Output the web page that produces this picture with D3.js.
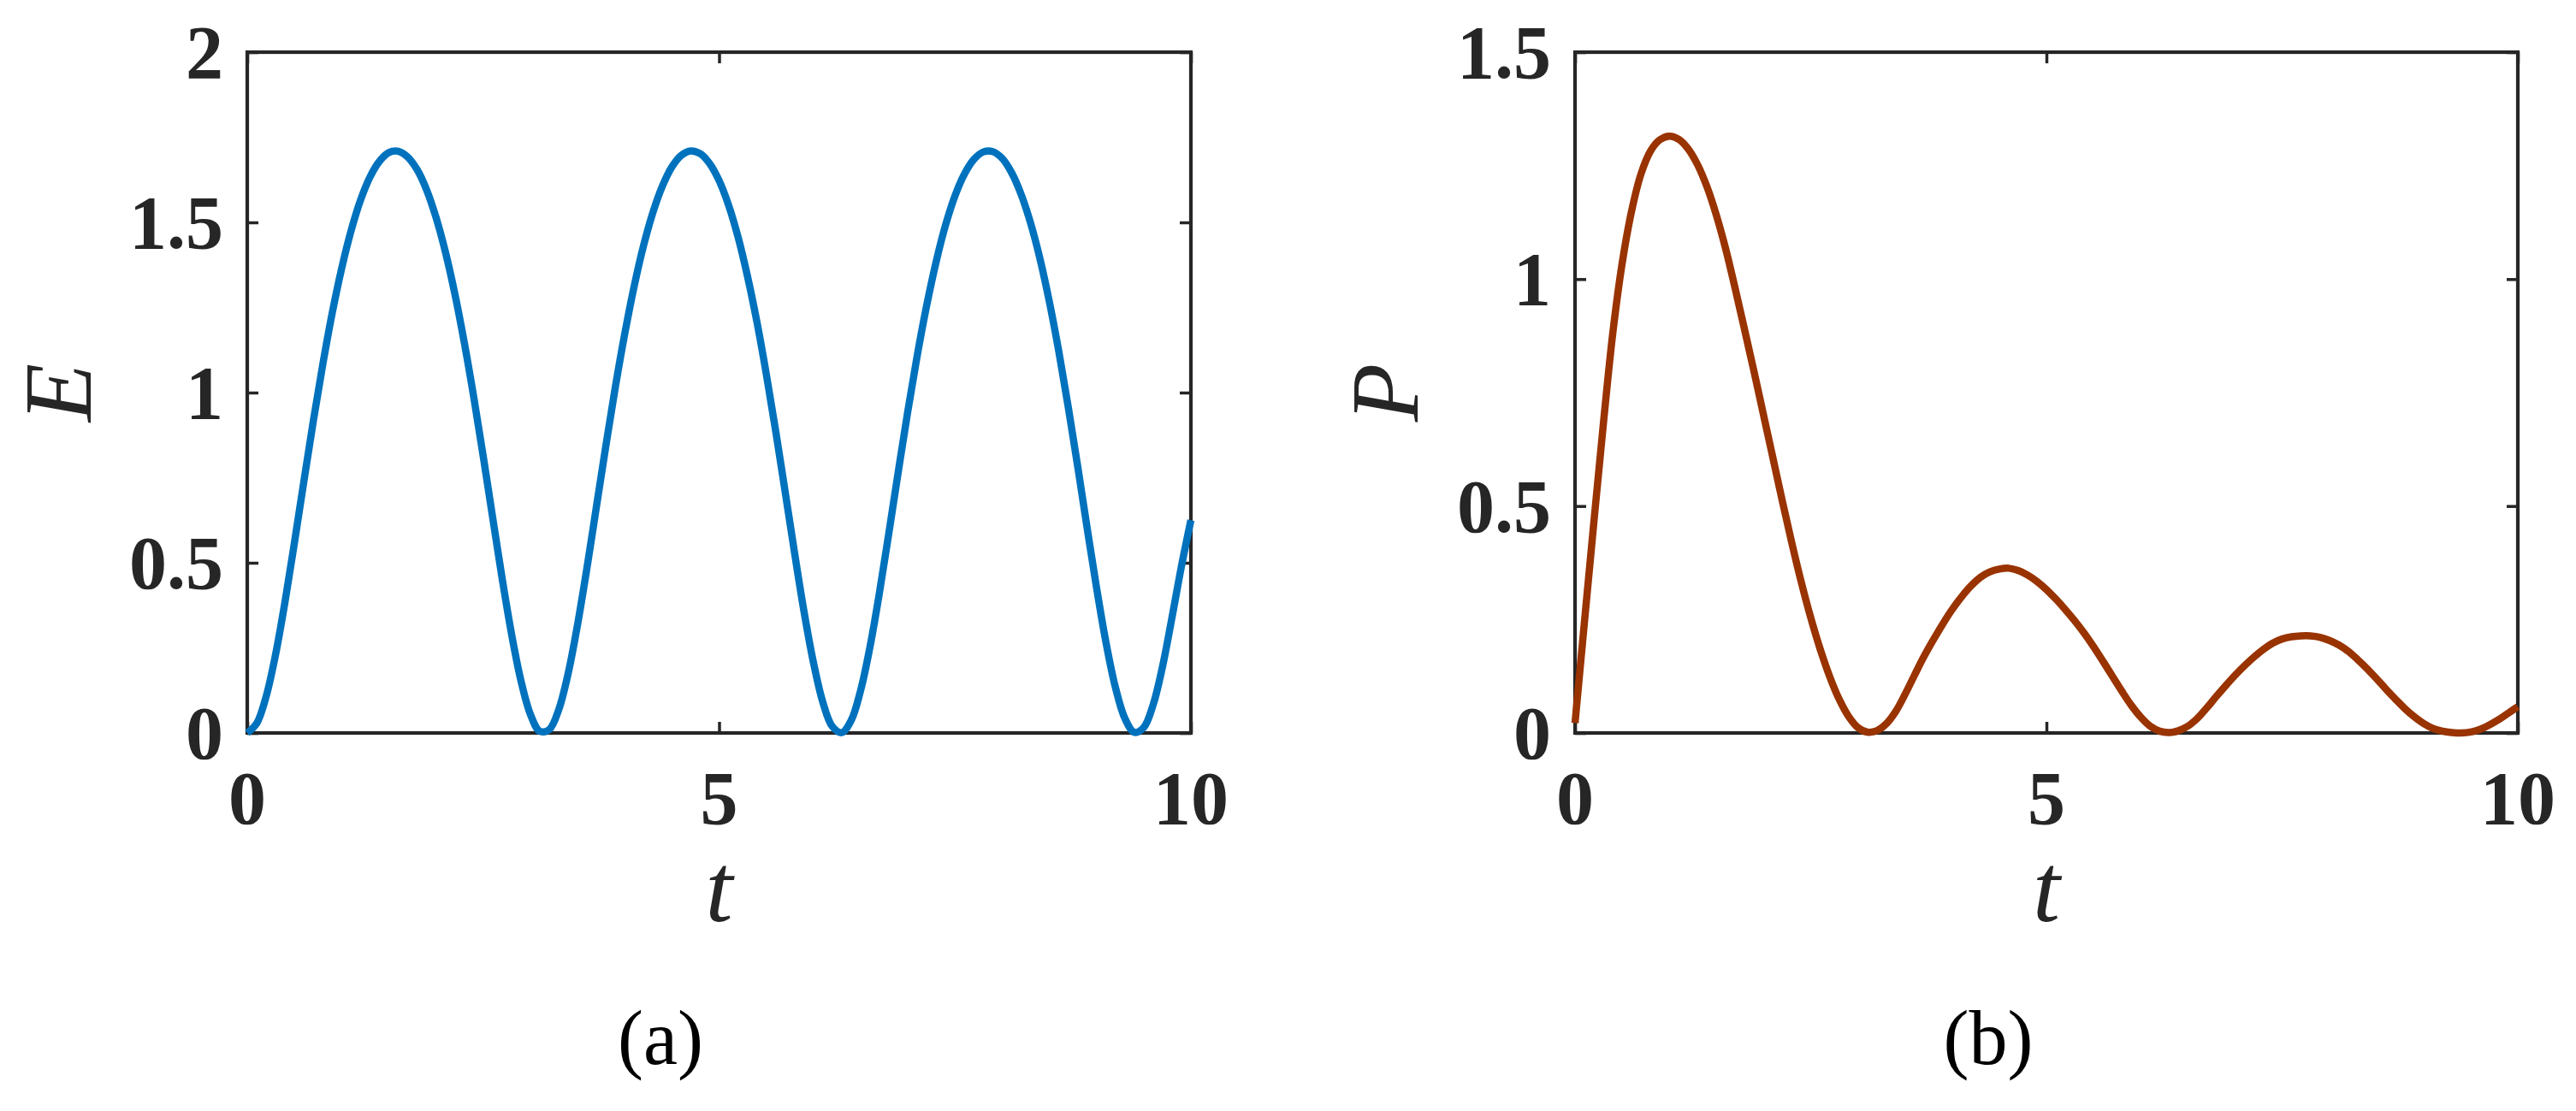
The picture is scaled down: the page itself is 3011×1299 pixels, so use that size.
<!DOCTYPE html>
<html>
<head>
<meta charset="utf-8">
<script src="https://cdn.jsdelivr.net/npm/d3@7"></script>
<style>
  html, body { margin: 0; padding: 0; background: #ffffff; }
  svg { display: block; }
</style>
</head>
<body>
<svg id="chart" width="3011" height="1299"></svg>
<script>
// ---------------- data ----------------
const tValues = [0,0.1,0.2,0.3,0.4,0.5,0.6,0.7,0.8,0.9,1,1.1,1.2,1.3,1.4,1.5,1.6,1.7,1.8,1.9,2,2.1,2.2,2.3,2.4,2.5,2.6,2.7,2.8,2.9,3,3.1,3.2,3.3,3.4,3.5,3.6,3.7,3.8,3.9,4,4.1,4.2,4.3,4.4,4.5,4.6,4.7,4.8,4.9,5,5.1,5.2,5.3,5.4,5.5,5.6,5.7,5.8,5.9,6,6.1,6.2,6.3,6.4,6.5,6.6,6.7,6.8,6.9,7,7.1,7.2,7.3,7.4,7.5,7.6,7.7,7.8,7.9,8,8.1,8.2,8.3,8.4,8.5,8.6,8.7,8.8,8.9,9,9.1,9.2,9.3,9.4,9.5,9.6,9.7,9.8,9.9,10];

const eValues = [0,0.028,0.107,0.230,0.385,0.559,0.739,0.916,1.082,1.233,1.364,1.475,1.565,1.633,1.679,1.705,1.709,1.692,1.655,1.596,1.515,1.413,1.290,1.147,0.987,0.814,0.634,0.456,0.292,0.154,0.055,0.005,0.010,0.068,0.174,0.318,0.485,0.664,0.843,1.015,1.172,1.312,1.432,1.530,1.607,1.663,1.697,1.710,1.702,1.673,1.623,1.551,1.458,1.343,1.209,1.055,0.887,0.709,0.529,0.357,0.207,0.090,0.019,0.001,0.037,0.125,0.254,0.413,0.589,0.769,0.945,1.109,1.256,1.384,1.492,1.578,1.642,1.685,1.707,1.708,1.688,1.646,1.583,1.499,1.394,1.267,1.121,0.958,0.784,0.603,0.427,0.266,0.134,0.043,0.002,0.016,0.083,0.196,0.340,0.490,0.625];

const pValues = [0.022,0.245,0.465,0.68,0.88,1.035,1.15,1.232,1.282,1.307,1.315,1.308,1.287,1.252,1.203,1.14,1.065,0.978,0.887,0.795,0.70,0.605,0.51,0.418,0.332,0.254,0.185,0.125,0.075,0.037,0.012,0.002,0.005,0.02,0.047,0.085,0.127,0.168,0.205,0.24,0.272,0.30,0.324,0.343,0.355,0.361,0.363,0.358,0.348,0.334,0.316,0.295,0.272,0.247,0.22,0.19,0.158,0.125,0.092,0.061,0.035,0.015,0.004,0.001,0.005,0.015,0.032,0.055,0.08,0.104,0.127,0.148,0.167,0.184,0.198,0.207,0.212,0.214,0.214,0.211,0.204,0.194,0.18,0.162,0.142,0.12,0.097,0.075,0.054,0.036,0.021,0.01,0.004,0.001,0.0,0.002,0.008,0.018,0.03,0.044,0.058];

const xTicks = [0, 5, 10];
const xTickLabels = ["0", "5", "10"];
const yTicksA = [0, 0.5, 1, 1.5, 2];
const yTickLabelsA = ["0", "0.5", "1", "1.5", "2"];
const yTicksB = [0, 0.5, 1, 1.5];
const yTickLabelsB = ["0", "0.5", "1", "1.5"];

const panels = [
  { left: 289, right: 1392, top: 61, bottom: 857, yMax: 2, yTicks: yTicksA, yLabels: yTickLabelsA,
    values: eValues, color: "#0072BD", ylabel: "E", ylabelX: 106, caption: "(a)", captionX: 772 },
  { left: 1841, right: 2943, top: 61, bottom: 857, yMax: 1.5, yTicks: yTicksB, yLabels: yTickLabelsB,
    values: pValues, color: "#993300", ylabel: "P", ylabelX: 1657, caption: "(b)", captionX: 2324 }
];

// ---------------- drawing ----------------
const svg = d3.select("#chart");
svg.append("rect").attr("width", 3011).attr("height", 1299).attr("fill", "#ffffff");

const axisColor = "#262626";
const tickFont = "'Liberation Serif', 'Times New Roman', serif";
const tickLen = 13;

panels.forEach(p => {
  const x = d3.scaleLinear().domain([0, 10]).range([p.left, p.right]);
  const y = d3.scaleLinear().domain([0, p.yMax]).range([p.bottom, p.top]);
  const g = svg.append("g");

  // ticks (inward, on all four sides)
  const axB = d3.axisBottom(x).tickValues(xTicks).tickSize(-tickLen).tickFormat("");
  const axT = d3.axisTop(x).tickValues(xTicks).tickSize(-tickLen).tickFormat("");
  const axL = d3.axisLeft(y).tickValues(p.yTicks).tickSize(-tickLen).tickFormat("");
  const axR = d3.axisRight(y).tickValues(p.yTicks).tickSize(-tickLen).tickFormat("");

  [[axB, `translate(0,${p.bottom})`], [axT, `translate(0,${p.top})`],
   [axL, `translate(${p.left},0)`], [axR, `translate(${p.right},0)`]].forEach(([ax, tr]) => {
    const a = g.append("g").attr("transform", tr).call(ax);
    a.select(".domain").remove();
    a.selectAll(".tick line").attr("stroke", axisColor).attr("stroke-width", 3.5);
  });

  // frame
  g.append("rect")
    .attr("x", p.left).attr("y", p.top)
    .attr("width", p.right - p.left).attr("height", p.bottom - p.top)
    .attr("fill", "none").attr("stroke", axisColor).attr("stroke-width", 4.2);

  // x tick labels
  g.selectAll(".xtl").data(xTicks).enter().append("text")
    .attr("x", d => x(d)).attr("y", p.bottom + 106)
    .attr("text-anchor", "middle")
    .attr("font-family", tickFont).attr("font-weight", "bold").attr("font-size", 88)
    .attr("fill", axisColor)
    .text((d, i) => xTickLabels[i]);

  // y tick labels
  g.selectAll(".ytl").data(p.yTicks).enter().append("text")
    .attr("x", p.left - 28).attr("y", d => y(d) + 30)
    .attr("text-anchor", "end")
    .attr("font-family", tickFont).attr("font-weight", "bold").attr("font-size", 88)
    .attr("fill", axisColor)
    .text((d, i) => p.yLabels[i]);

  // x axis label
  g.append("text")
    .attr("x", (p.left + p.right) / 2).attr("y", 1077)
    .attr("text-anchor", "middle")
    .attr("font-family", tickFont).attr("font-style", "italic").attr("font-size", 115)
    .attr("fill", axisColor)
    .text("t");

  // y axis label
  g.append("text")
    .attr("transform", `translate(${p.ylabelX},${(p.top + p.bottom) / 2}) rotate(-90)`)
    .attr("text-anchor", "middle")
    .attr("font-family", tickFont).attr("font-style", "italic").attr("font-size", 112)
    .attr("fill", axisColor)
    .text(p.ylabel);

  // caption
  g.append("text")
    .attr("x", p.captionX).attr("y", 1244)
    .attr("text-anchor", "middle")
    .attr("font-family", tickFont).attr("font-size", 90)
    .attr("fill", "#000000")
    .text(p.caption);

  // curve
  const line = d3.line()
    .x((d, i) => x(tValues[i]))
    .y(d => y(d))
    .curve(d3.curveCatmullRom.alpha(0.5));
  g.append("path")
    .datum(p.values)
    .attr("d", line)
    .attr("fill", "none")
    .attr("stroke", p.color)
    .attr("stroke-width", 8.5)
    .attr("stroke-linejoin", "round");
});
</script>
</body>
</html>
